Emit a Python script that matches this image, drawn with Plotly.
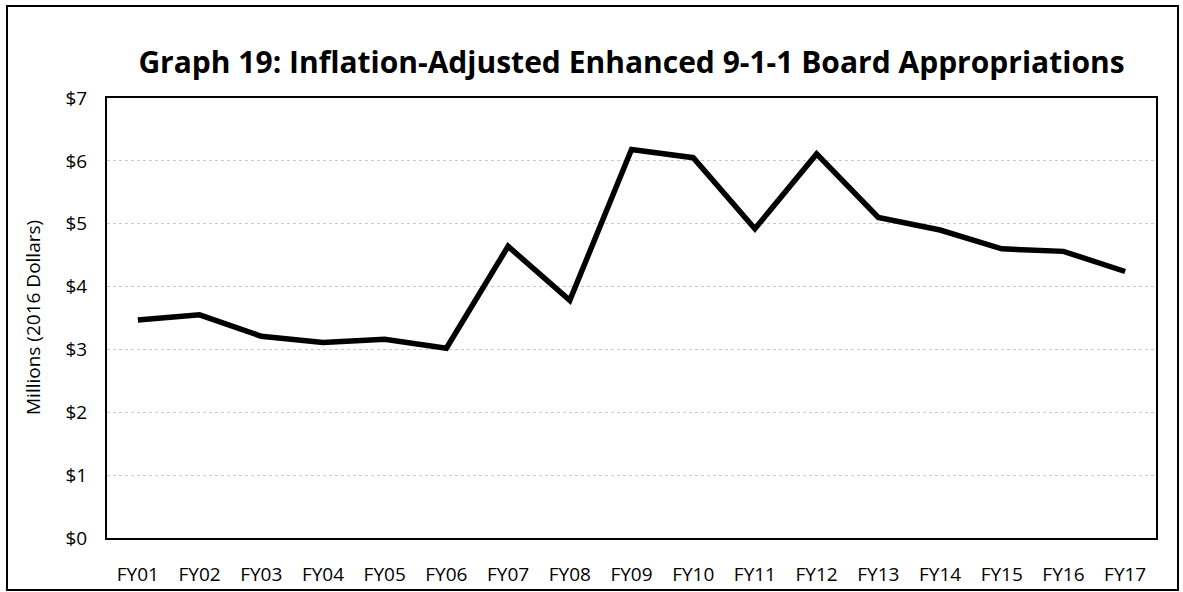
import plotly.graph_objects as go

categories = ["FY01", "FY02", "FY03", "FY04", "FY05", "FY06", "FY07", "FY08", "FY09",
              "FY10", "FY11", "FY12", "FY13", "FY14", "FY15", "FY16", "FY17"]
appropriations = [3.47, 3.55, 3.21, 3.11, 3.16, 3.02, 4.64, 3.78, 6.18,
                  6.05, 4.92, 6.11, 5.10, 4.90, 4.60, 4.56, 4.24]
y_ticks = [0, 1, 2, 3, 4, 5, 6, 7]
y_tick_labels = ["$0", "$1", "$2", "$3", "$4", "$5", "$6", "$7"]

title_text = "Graph 19: Inflation-Adjusted Enhanced 9-1-1 Board Appropriations"
y_title = "Millions (2016 Dollars)"

fig = go.Figure()
fig.add_trace(go.Scatter(
    x=categories, y=appropriations, mode="lines",
    line=dict(color="black", width=5.5),
    showlegend=False, hoverinfo="x+y",
))

font_family = "Open Sans, Noto Sans, sans-serif"

fig.update_layout(
    width=1183, height=592,
    margin=dict(l=107, r=27, t=98, b=54),
    paper_bgcolor="white", plot_bgcolor="white",
    font=dict(family=font_family, color="black", size=19),
    title=dict(text="<b>" + title_text + "</b>", x=0.5, xref="paper", xanchor="center",
               y=1 - 62 / 592, yref="container", yanchor="middle",
               font=dict(family=font_family, size=30, color="black")),
    xaxis=dict(
        type="category", range=[-0.5, len(categories) - 0.5], automargin=False,
        showgrid=False, showline=True, linecolor="black", linewidth=2,
        mirror=True, ticks="", ticklabelstandoff=18,
        tickfont=dict(size=19, family=font_family),
    ),
    yaxis=dict(
        range=[0, 7], tickvals=y_ticks, ticktext=y_tick_labels, automargin=False,
        showgrid=True, gridcolor="#c8c8c8", griddash="dot", gridwidth=1,
        showline=True, linecolor="black", linewidth=2, mirror=True,
        ticks="", ticklabelstandoff=14, zeroline=False,
        tickfont=dict(size=19, family=font_family),
    ),
    annotations=[dict(
        text=y_title, textangle=-90, xref="paper", yref="paper",
        x=(33 - 107) / 1049, y=0.5, xanchor="center", yanchor="middle",
        showarrow=False, font=dict(size=19, family=font_family, color="black"),
    )],
    shapes=[dict(
        type="rect", xref="paper", yref="paper",
        x0=(7 - 107) / 1049, x1=(1178 - 107) / 1049,
        y0=(538 - 590) / 440, y1=(538 - 6) / 440,
        line=dict(color="black", width=2), fillcolor="rgba(0,0,0,0)", layer="below",
    )],
)

fig.write_html("out.html", config={"displayModeBar": False},
               post_script="document.body.style.margin='0';")
